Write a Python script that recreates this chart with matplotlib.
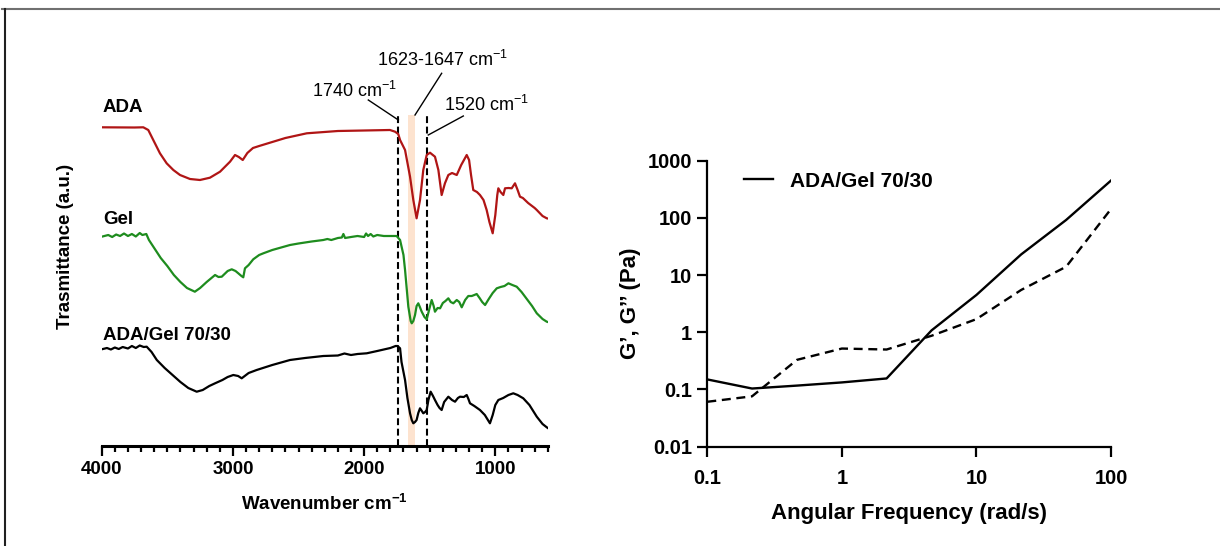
import matplotlib
matplotlib.use("Agg")
import matplotlib.pyplot as plt
from matplotlib.lines import Line2D
from matplotlib.ticker import FixedLocator, NullLocator, MultipleLocator

plt.rcParams['font.family'] = ['Liberation Sans', 'DejaVu Sans']
plt.rcParams['mathtext.fontset'] = 'custom'
plt.rcParams['mathtext.rm'] = 'Liberation Sans'
plt.rcParams['mathtext.it'] = 'Liberation Sans:italic'
plt.rcParams['mathtext.bf'] = 'Liberation Sans:bold'

# ---------------- FTIR data (transmittance, arbitrary units with offsets) ----------------
ada_wn = [4000, 3750, 3683, 3645, 3607, 3556, 3505, 3454, 3403, 3327, 3251, 3175, 3098, 3022,
          2984, 2955, 2925, 2890, 2847, 2800, 2700, 2600, 2437, 2200, 2000, 1803, 1764, 1740,
          1726, 1688, 1650, 1625, 1600, 1574, 1549, 1523, 1498, 1460, 1434, 1409, 1384, 1358,
          1330, 1294, 1260, 1218, 1200, 1185, 1168, 1140, 1117, 1090, 1066, 1045, 1020, 1000,
          985, 977, 960, 939, 926, 900, 875, 850, 830, 812, 790, 750, 700, 684, 640, 608, 600]
ada_t = [31.87, 31.85, 31.87, 31.6, 30.6, 29.27, 28.27, 27.6, 27.1, 26.7, 26.6, 26.83, 27.43, 28.43,
         29.1, 28.9, 28.6, 29.3, 29.8, 30.0, 30.4, 30.8, 31.27, 31.5, 31.55, 31.6, 31.43, 31.2,
         30.6, 29.6, 26.93, 24.6, 22.77, 24.6, 27.6, 29.1, 29.33, 28.93, 27.6, 25.1, 26.27, 27.1,
         27.3, 27.1, 28.1, 29.1, 28.6, 27.1, 25.6, 25.4, 25.1, 24.6, 23.6, 22.4, 21.27, 23.1,
         25.1, 25.77, 25.4, 25.1, 25.77, 25.8, 25.77, 26.27, 25.6, 24.93, 24.8, 24.3, 23.8, 23.6,
         23.0, 22.77, 22.75]

gel_wn = [4000, 3950, 3920, 3890, 3860, 3830, 3800, 3770, 3740, 3710, 3690, 3660, 3640, 3600,
          3550, 3500, 3450, 3400, 3350, 3290, 3250, 3200, 3136, 3110, 3085, 3040, 3009, 2980,
          2959, 2935, 2921, 2908, 2880, 2845, 2800, 2768, 2700, 2565, 2500, 2400, 2311, 2280,
          2250, 2200, 2170, 2158, 2145, 2100, 2050, 2000, 1985, 1970, 1950, 1930, 1900, 1850,
          1800, 1752, 1726, 1700, 1688, 1663, 1645, 1637, 1625, 1612, 1600, 1587, 1575, 1561,
          1540, 1523, 1505, 1485, 1470, 1460, 1440, 1421, 1400, 1380, 1358, 1340, 1320, 1294,
          1275, 1256, 1230, 1206, 1180, 1160, 1142, 1120, 1100, 1078, 1050, 1020, 989, 960,
          930, 900, 870, 837, 800, 760, 720, 684, 640, 608, 600]
gel_t = [20.93, 21.1, 20.9, 21.15, 21.0, 21.25, 21.0, 21.2, 20.95, 21.3, 21.1, 21.2, 20.6, 19.8,
         18.8, 18.0, 17.1, 16.4, 15.8, 15.43, 15.8, 16.4, 17.1, 16.9, 16.93, 17.5, 17.67, 17.5,
         17.27, 17.0, 16.87, 17.77, 18.1, 18.67, 19.1, 19.27, 19.6, 20.1, 20.25, 20.45, 20.6, 20.7,
         20.6, 20.8, 20.85, 21.2, 20.8, 20.9, 21.0, 20.9, 21.25, 21.0, 21.2, 20.95, 21.1, 21.0,
         21.0, 21.0, 20.6, 19.1, 17.6, 13.93, 12.5, 12.27, 12.5, 13.1, 14.0, 14.27, 13.9, 13.43,
         12.9, 12.67, 13.6, 14.6, 14.0, 13.43, 13.8, 13.77, 14.3, 14.5, 14.77, 14.4, 14.27, 14.6,
         14.4, 13.87, 14.6, 15.0, 15.0, 15.1, 15.2, 14.8, 14.4, 14.1, 14.7, 15.3, 15.77, 15.9,
         16.0, 16.27, 16.1, 15.93, 15.4, 14.7, 14.0, 13.27, 12.7, 12.43, 12.4]

mix_wn = [4000, 3960, 3930, 3900, 3870, 3840, 3800, 3770, 3740, 3710, 3680, 3657, 3620, 3580,
          3520, 3460, 3400, 3340, 3276, 3230, 3180, 3136, 3080, 3040, 2997, 2960, 2933, 2880,
          2819, 2700, 2565, 2450, 2311, 2200, 2150, 2100, 2050, 1980, 1900, 1850, 1800, 1760,
          1745, 1726, 1715, 1700, 1688, 1670, 1650, 1637, 1625, 1612, 1600, 1587, 1574, 1560,
          1549, 1535, 1523, 1510, 1493, 1475, 1460, 1440, 1425, 1409, 1390, 1358, 1330, 1307,
          1285, 1269, 1240, 1218, 1205, 1193, 1160, 1117, 1080, 1041, 1020, 1000, 977, 940,
          900, 863, 830, 787, 740, 684, 640, 608, 600]
mix_t = [9.67, 9.8, 9.65, 9.85, 9.7, 9.9, 9.75, 10.0, 9.8, 10.05, 9.9, 9.93, 9.4, 8.6,
         7.8, 7.1, 6.4, 5.8, 5.43, 5.6, 6.0, 6.27, 6.6, 6.9, 7.1, 7.0, 6.77, 7.3,
         7.6, 8.1, 8.6, 8.8, 9.0, 9.05, 9.25, 9.1, 9.2, 9.27, 9.5, 9.65, 9.8, 10.0,
         10.0, 9.77, 8.4, 7.4, 6.6, 4.8, 3.27, 2.6, 2.27, 2.4, 2.6, 3.3, 3.77, 3.5,
         3.27, 3.4, 3.6, 4.6, 5.43, 5.0, 4.6, 4.1, 3.8, 3.6, 4.4, 4.93, 4.6, 4.43,
         4.8, 4.93, 4.9, 5.1, 4.7, 4.27, 4.0, 3.6, 3.1, 2.27, 3.1, 4.1, 4.6, 4.8,
         5.1, 5.27, 5.1, 4.77, 4.1, 2.93, 2.2, 1.87, 1.8]

spectra_names = ["ADA", "Gel", "ADA/Gel 70/30"]
marker_wn = [1740, 1520]
band_wn = [1612, 1662]

# ---------------- Rheology data ----------------
freq = [0.1, 0.215, 0.464, 1.0, 2.15, 4.64, 10, 21.5, 46.4, 100]
g_storage = [0.15, 0.104, 0.117, 0.133, 0.156, 1.08, 4.5, 23, 92, 450]
g_loss = [0.061, 0.076, 0.33, 0.52, 0.50, 0.87, 1.7, 5.5, 14, 143]

W, H = 1220, 546
fig = plt.figure(figsize=(W / 100, H / 100), dpi=100)

# ---------------- Left panel: FTIR ----------------
ax1 = fig.add_axes([101.7 / W, 100 / H, 446.1 / W, 400 / H])
red, green = '#b01515', '#1e8c1e'
band_top = 33.1
ax1.fill_between(band_wn, 0, band_top, color='#fde3cf', lw=0, zorder=0)
for wn in marker_wn:
    ax1.plot([wn, wn], [0, band_top], ls=(0, (3.3, 1.7)), color='black', lw=1.5, zorder=1)
ax1.plot(ada_wn, ada_t, color=red, lw=1.6, zorder=2)
ax1.plot(gel_wn, gel_t, color=green, lw=1.6, zorder=2)
ax1.plot(mix_wn, mix_t, color='black', lw=1.6, zorder=2)

ax1.set_xlim(4000, 600)
ax1.set_ylim(0, 40)
for s in ['left', 'right', 'top']:
    ax1.spines[s].set_visible(False)
ax1.spines['bottom'].set_linewidth(2.2)
ax1.set_yticks([])
ax1.xaxis.set_major_locator(FixedLocator([4000, 3000, 2000, 1000]))
ax1.xaxis.set_minor_locator(MultipleLocator(100))
ax1.tick_params(axis='x', which='major', length=7, width=1.6, direction='out', pad=4,
                labelsize=13.5)
ax1.tick_params(axis='x', which='minor', length=4, width=1.6, direction='out')
for lab in ax1.get_xticklabels():
    lab.set_fontweight('bold')
ax1.set_xlabel("Wavenumber cm$^{\\mathbf{-1}}$", fontsize=13.5, fontweight='bold', labelpad=11)
ax1.set_ylabel("Trasmittance (a.u.)", fontsize=13.5, fontweight='bold', labelpad=20)

label_y = [33.8, 22.6, 11.1]
for name, yy in zip(spectra_names, label_y):
    ax1.text(3990, yy, name, fontsize=13.5, fontweight='bold', ha='left', va='center')

ann = dict(fontsize=13, ha='center', va='center')
ax1.text(2077, 35.5, "1740 cm$^{-1}$", **ann)
ax1.plot([1968, 1739], [34.6, 32.6], color='black', lw=1.0)
ax1.text(1399, 38.6, "1623-1647 cm$^{-1}$", **ann)
ax1.plot([1409, 1612], [37.27, 33.1], color='black', lw=1.0)
ax1.text(1067, 34.1, "1520 cm$^{-1}$", **ann)
ax1.plot([1244, 1511], [33.0, 31.1], color='black', lw=1.0)

# ---------------- Right panel: rheology ----------------
ax2 = fig.add_axes([707.3 / W, (H - 446.7) / H, 403.7 / W, 286 / H])
ax2.plot(freq, g_storage, color='black', lw=1.7, label='ADA/Gel 70/30')
ax2.plot(freq, g_loss, color='black', lw=1.7, ls=(0, (3.8, 2.4)))
ax2.set_xscale('log')
ax2.set_yscale('log')
ax2.set_xlim(0.1, 100)
ax2.set_ylim(0.01, 1000)
ax2.xaxis.set_major_locator(FixedLocator([0.1, 1, 10, 100]))
ax2.yaxis.set_major_locator(FixedLocator([0.01, 0.1, 1, 10, 100, 1000]))
ax2.xaxis.set_minor_locator(NullLocator())
ax2.yaxis.set_minor_locator(NullLocator())
ax2.set_xticklabels(["0.1", "1", "10", "100"])
ax2.set_yticklabels(["0.01", "0.1", "1", "10", "100", "1000"])
for s in ['right', 'top']:
    ax2.spines[s].set_visible(False)
for s in ['left', 'bottom']:
    ax2.spines[s].set_linewidth(1.6)
ax2.tick_params(axis='both', which='major', length=7, width=1.6, labelsize=14.5)
ax2.tick_params(axis='x', pad=9)
ax2.tick_params(axis='y', pad=4)
for lab in ax2.get_xticklabels() + ax2.get_yticklabels():
    lab.set_fontweight('bold')
ax2.set_xlabel("Angular Frequency (rad/s)", fontsize=16, fontweight='bold', labelpad=11)
ax2.set_ylabel("G\u2019, G\u2019\u2019 (Pa)", fontsize=16, fontweight='bold', labelpad=5)
leg = ax2.legend(loc='center left', bbox_to_anchor=(0.091, 0.929), frameon=False,
                 borderpad=0, borderaxespad=0, handlelength=1.4, handletextpad=0.8,
                 prop={'size': 15, 'weight': 'bold'})

# ---------------- figure frame ----------------
fig.add_artist(Line2D([2 / W, 1], [1 - 8.5 / H] * 2, transform=fig.transFigure,
                      color='#707070', lw=1.5))
fig.add_artist(Line2D([5 / W, 5 / W], [1 - 8.5 / H, 1 - 545 / H], transform=fig.transFigure,
                      color='#202020', lw=1.5))

fig.savefig("out.png", dpi=100)
